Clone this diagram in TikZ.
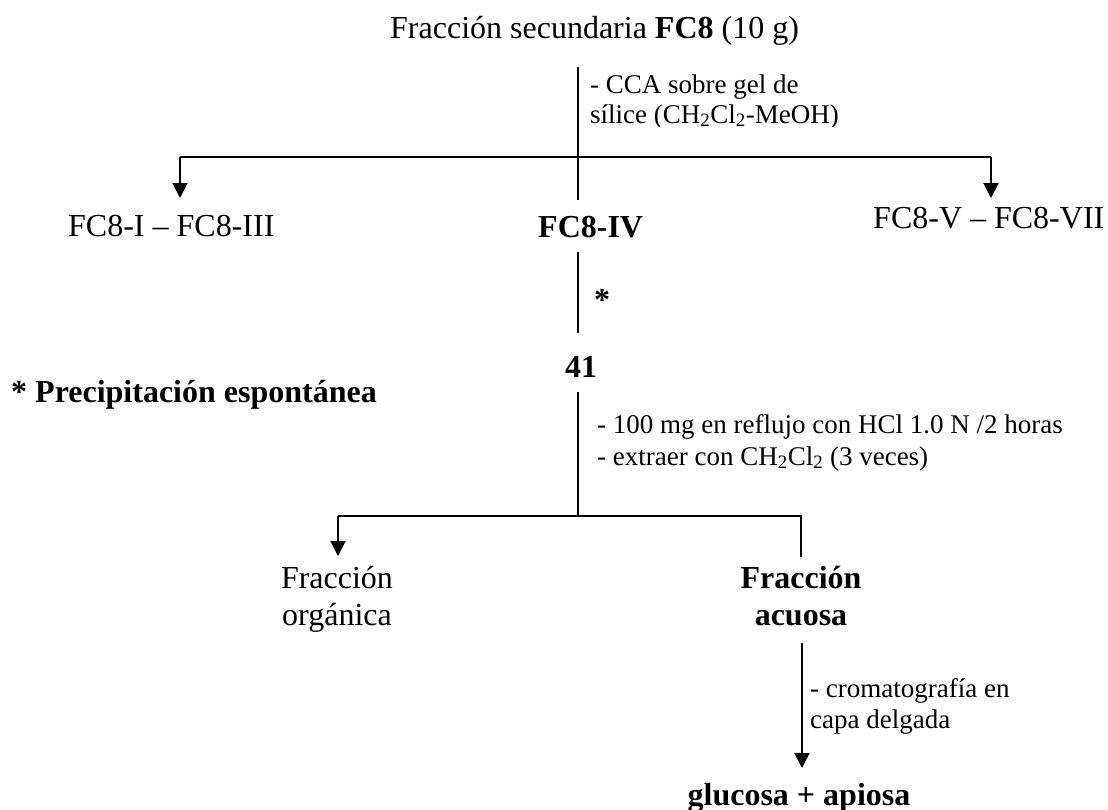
\documentclass[tikz,border=0pt]{standalone}
\usepackage{fontspec}
\setmainfont{Liberation Serif}
\usetikzlibrary{arrows.meta}

\begin{document}
\begin{tikzpicture}[x=1pt,y=-1pt,
  txt/.style={inner sep=0pt, anchor=base west, font=\fontsize{32}{36}\selectfont},
  txtb/.style={inner sep=0pt, anchor=base west, font=\fontsize{32}{36}\selectfont\bfseries},
  ctr/.style={inner sep=0pt, anchor=base, font=\fontsize{32}{36}\selectfont},
  ctrb/.style={inner sep=0pt, anchor=base, font=\fontsize{32}{36}\selectfont\bfseries},
  note/.style={inner sep=0pt, anchor=base west, font=\fontsize{27}{31}\selectfont},
  link/.style={line width=2pt},
  arrowlink/.style={link, -{Triangle[width=15pt,length=15pt]}}
]
\useasboundingbox (0,0) rectangle (1108,809);

% ---- texts ----
\node[txt] (title) at (390,38) {Fracción secundaria \textbf{FC8} (10 g)};
\node[txt]  (fA)   at (68,236)  {FC8-I -- FC8-III};
\node[txtb] (fB)   at (538,237) {FC8-IV};
\node[txt]  (fC)   at (873,228) {FC8-V -- FC8-VII};
\node[txtb] (star) at (594,310) {*};
\node[txtb] (c41)  at (565,377) {41};
\node[txtb] (prec) at (11,402)  {* Precipitación espontánea};
\node[ctr]  (orgA) at (337,588) {Fracción};
\node[ctr]  (orgB) at (337,625) {orgánica};
\node[ctrb] (acuA) at (801,588) {Fracción};
\node[ctrb] (acuB) at (801,625) {acuosa};
\node[ctrb] (sug)  at (799,805) {glucosa + apiosa};

\node[note] (ccaA) at (590,93) {- CCA sobre gel de};
\begin{scope}
  \clip (585,100) rectangle (900,126);
  \node[note] (ccaB) at (590,123) {sílice (CH\textsubscript{2}Cl\textsubscript{2}-MeOH)};
\end{scope}
\node[note] (refA) at (597,433) {- 100 mg en reflujo con HCl 1.0 N /2 horas};
\node[note] (refB) at (597,465) {- extraer con CH\textsubscript{2}Cl\textsubscript{2} (3 veces)};
\node[note] (tlcA) at (810,697) {- cromatografía en};
\node[note] (tlcB) at (810,728) {capa delgada};

% ---- connector points ----
\coordinate (t0) at (578,67);
\coordinate (t1) at (578,157);
\coordinate (t2) at (578,200);
\coordinate (l1) at (180,157);
\coordinate (l2) at (180,198);
\coordinate (r1) at (991,157);
\coordinate (r2) at (991,198);
\coordinate (p0) at (578,252);
\coordinate (p1) at (578,333);
\coordinate (q0) at (578,392);
\coordinate (q1) at (578,516);
\coordinate (o1) at (338,516);
\coordinate (o2) at (338,556);
\coordinate (a1) at (801,516);
\coordinate (a2) at (801,557);
\coordinate (g0) at (802,643);
\coordinate (g1) at (802,768);

% ---- connectors ----
\draw[link] (t0) -- (t2);
\draw[link] (l1) -- (r1);
\draw[arrowlink] (l1) -- (l2);
\draw[arrowlink] (r1) -- (r2);
\draw[link] (p0) -- (p1);
\draw[link] (q0) -- (q1);
\draw[link] (o1) -- (a1) -- (a2);
\draw[arrowlink] (o1) -- (o2);
\draw[arrowlink] (g0) -- (g1);
\end{tikzpicture}
\end{document}
